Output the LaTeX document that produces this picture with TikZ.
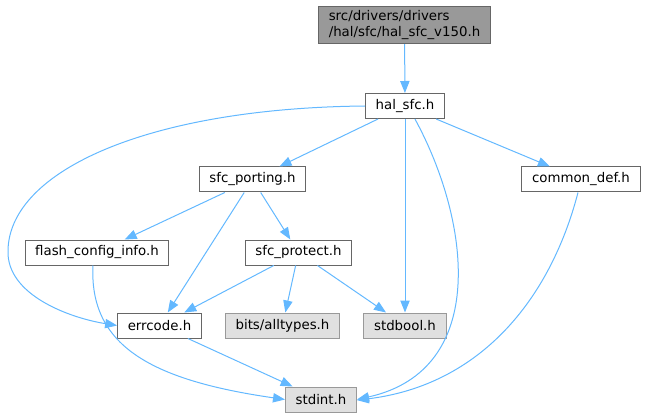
\documentclass[tikz,border=0pt]{standalone}
\usepackage{fontspec}
\setmainfont{DejaVu Sans}
\usetikzlibrary{arrows.meta}

\definecolor{edgeblue}{HTML}{63B8FF}
\definecolor{boxline}{HTML}{666666}
\definecolor{extline}{HTML}{999999}
\definecolor{extfill}{HTML}{E0E0E0}
\definecolor{rootfill}{HTML}{999999}

\begin{document}
\begin{tikzpicture}[x=0.75pt, y=-0.75pt,
    file/.style={draw=boxline, fill=white, line width=0.75pt, inner xsep=7.6pt,
                 minimum height=18.75pt, font=\fontsize{10}{12}\selectfont},
    extfile/.style={file, draw=extline, fill=extfill},
    rootfile/.style={file, fill=rootfill, align=left, inner ysep=3pt},
    dep/.style={draw=edgeblue, line width=0.75pt,
                -{Triangle[length=9pt, width=7pt]}, fill=none}]

        % page frame, pixels of the original
        \useasboundingbox (0,0) rectangle (646,417);

        % the files
        \node[rootfile] (root) at (404.5,25) {src/drivers/drivers\\/hal/sfc/hal\_sfc\_v150.h};
        \node[file] (halsfc) at (405,106) {hal\_sfc.h};
        \node[file] (porting) at (252.5,179.5) {sfc\_porting.h};
        \node[file] (commondef) at (581,179.5) {common\_def.h};
        \node[file] (flashcfg) at (97,252.5) {flash\_config\_info.h};
        \node[file] (protect) at (298.5,252.5) {sfc\_protect.h};
        \node[file] (errcode) at (159.5,325.5) {errcode.h};
        \node[extfile] (alltypes) at (282.5,325.5) {bits/alltypes.h};
        \node[extfile] (stdbool) at (405,325.5) {stdbool.h};
        \node[extfile] (stdint) at (321,399.5) {stdint.h};

        % straight includes
        \draw[dep] (root) -- (halsfc);
        \draw[dep] (halsfc) -- (porting);
        \draw[dep] (halsfc) -- (commondef);
        \draw[dep] (halsfc) -- (stdbool);
        \draw[dep] (porting) -- (flashcfg);
        \draw[dep] (porting) -- (protect);
        \draw[dep] (porting) -- (errcode);
        \draw[dep] (protect) -- (errcode);
        \draw[dep] (protect) -- (alltypes);
        \draw[dep] (protect) -- (stdbool);
        \draw[dep] (errcode) -- (stdint);

        % curved includes
        \draw[dep] (halsfc.west) .. controls (150,108) and (10,170) .. (8,250)
            .. controls (6,295) and (70,318) .. (errcode.west);
        \draw[dep] (halsfc.south east) ++(-30,0) .. controls (470,220) and (490,370) .. (stdint.east);
        \draw[dep] (commondef.south) ++(-3,0) .. controls (550,300) and (480,385) .. ([yshift=-0.5]stdint.east);
        \draw[dep] (flashcfg.south) ++(-4,0) .. controls (89,345) and (150,380) .. (stdint.west);
\end{tikzpicture}
\end{document}
